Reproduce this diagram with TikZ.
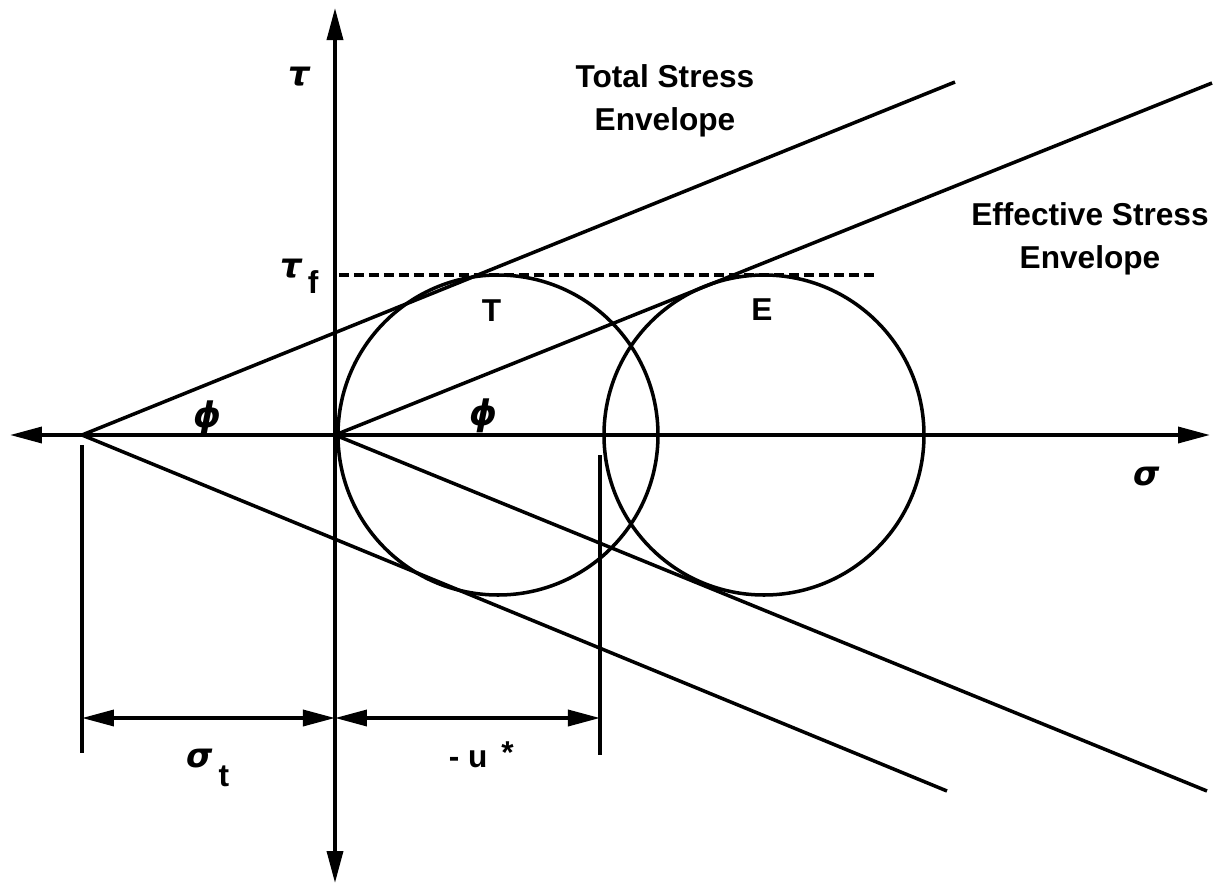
\documentclass[tikz,border=0pt]{standalone}
\usepackage{fontspec}
\setmainfont{Liberation Sans}
\newfontfamily\grkfont{DejaVu Sans}
\usetikzlibrary{arrows.meta,positioning}
\newcommand{\lblfont}{\fontsize{22.5}{30.6}\selectfont\rmfamily\bfseries\upshape}

\begin{document}
\begin{tikzpicture}[>={Triangle[length=8mm,width=4mm]}, line width=2.5pt,
        lbl/.style={font=\lblfont, inner sep=0pt},
        greek/.style={font=\fontsize{24}{28}\selectfont\grkfont\bfseries\itshape, inner sep=0pt},
        phisym/.style={font=\fontsize{25}{30}\selectfont\grkfont\bfseries\itshape, inner sep=0pt}]
        \useasboundingbox (-8.375,-11.25) rectangle (21.95,10.875);

        % Reference points
        \coordinate (O) at (0,0);
        \coordinate (A) at (-6.325,0);
        \coordinate (xmin) at (-8.125,0);
        \coordinate (xmax) at (21.875,0);
        \coordinate (ymin) at (0,-11.2);
        \coordinate (ymax) at (0,10.675);

        % Axes
        \draw[<->] (xmin) -- (xmax);
        \draw[<->] (ymin) -- (ymax);

        % Mohr circles (total and effective)
        \draw (4.075,0) circle (4);
        \draw (10.725,0) circle (4);

        % Total stress envelope (from A)
        \coordinate (TU) at (15.5,8.825);
        \coordinate (TL) at (15.3,-8.9);
        \draw (A) -- (TU);
        \draw (A) -- (TL);

        % Effective stress envelope (from O)
        \coordinate (EU) at (21.925,8.8);
        \coordinate (EL) at (21.8,-8.9);
        \draw (O) -- (EU);
        \draw (O) -- (EL);

        % Shear strength level
        \coordinate (fa) at (0.1,4);
        \coordinate (fb) at (13.575,4);
        \draw[dash pattern=on 0.25cm off 0.125cm] (fa) -- (fb);

        % Dimension lines
        \coordinate (da) at (-6.325,-0.25);
        \coordinate (db) at (-6.325,-7.95);
        \coordinate (dc) at (6.625,-0.5);
        \coordinate (dd) at (6.625,-8.0);
        \draw (da) -- (db);
        \draw (dc) -- (dd);
        \coordinate (ma) at (-6.325,-7.075);
        \coordinate (mo) at (0,-7.075);
        \coordinate (mb) at (6.625,-7.075);
        \draw[<->] (ma) -- (mo);
        \draw[<->] (mo) -- (mb);

        % Labels
        \node[greek, anchor=base west] (tau) at (-1.2,8.75) {τ};
        \node[greek, anchor=base west] (tauf) at (-1.4,3.95) {τ\,{\lblfont\raisebox{-0.4cm}{f}}};
        \node[greek, anchor=base west] (sig) at (19.925,-1.25) {σ};
        \node[phisym] (phiA) at (-3.2,0.425) {ϕ};
        \node[phisym] (phiO) at (3.7,0.475) {ϕ};
        \node[lbl] (T) at (3.9125,3.11) {T};
        \node[lbl] (E) at (10.675,3.125) {E};
        \node[lbl, align=center] (total) at (8.25,8.35) {Total Stress\\Envelope};
        \node[lbl, align=center] (eff) at (18.875,4.9) {Effective Stress\\Envelope};
        \node[greek, anchor=base west] (sigt) at (-3.75,-8.3) {σ\,{\lblfont\raisebox{-0.475cm}{t}}};
        \node[lbl, anchor=base west] (ustar) at (2.8,-8.3) {- u\hspace{0.35cm}\raisebox{0.1cm}{*}};
\end{tikzpicture}
\end{document}
